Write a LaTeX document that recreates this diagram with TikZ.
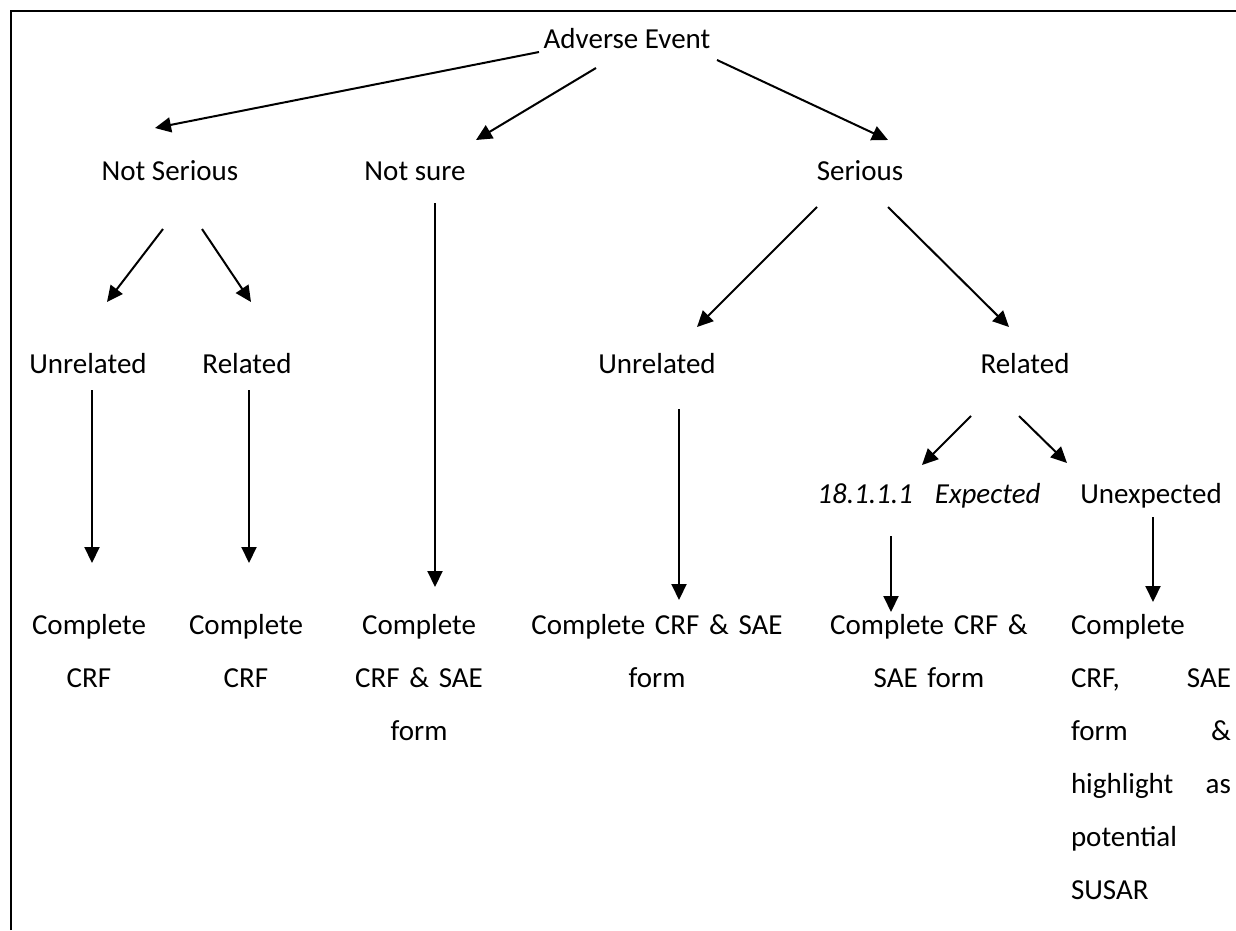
\documentclass[tikz,border=0pt]{standalone}
\usepackage{fontspec}
\setmainfont{Carlito}
\usetikzlibrary{arrows.meta}
\begin{document}
\begin{tikzpicture}[x=1pt,y=-1pt,
  lbl/.style={inner sep=0pt,anchor=base,font=\fontsize{29}{53}\selectfont},
  ml/.style={lbl,text width=260pt,align=center},
  conn/.style={line width=2pt,-{Triangle[length=16pt,width=15pt]}},
  frame/.style={line width=2pt}]
\useasboundingbox (0,0) rectangle (1236,930);
\draw[frame] (11,930) -- (11,11) -- (1237,11);

\node[lbl] (AE) at (627,48) {Adverse Event};
\node[lbl] (NS) at (170,180) {Not Serious};
\node[lbl] (NSure) at (415,180) {Not sure};
\node[lbl] (Ser) at (860,180) {Serious};
\node[lbl] (UnL) at (88,373) {Unrelated};
\node[lbl] (RelL) at (247,373) {Related};
\node[lbl] (UnM) at (657,373) {Unrelated};
\node[lbl] (RelR) at (1025,373) {Related};
\node[lbl,font=\fontsize{29}{53}\selectfont\itshape] (Exp) at (929,503) {18.1.1.1\hspace{22pt}Expected};
\node[lbl] (Unexp) at (1151,503) {Unexpected};
\node[ml] (CA) at (89,634) {Complete\\CRF};
\node[ml] (CB) at (246,634) {Complete\\CRF};
\node[ml] (CC) at (419,634) {Complete\\CRF \& SAE\\form};
\node[ml] (CD) at (657,634) {Complete CRF \& SAE\\form};
\node[ml] (CE) at (929,634) {Complete CRF \&\\SAE form};
\node[lbl,text width=160pt,align=left] (CF) at (1151,634)
  {Complete\\CRF,\hfill SAE\\form\hfill \&\\highlight\hfill as\\potential\\SUSAR};

\draw[conn] ([shift={(-88,4)}]AE.base) -- ([shift={(-15,-52)}]NS.base);
\draw[conn] ([shift={(-31,20)}]AE.base) -- ([shift={(61,-40)}]NSure.base);
\draw[conn] ([shift={(90,12)}]AE.base) -- ([shift={(28,-40)}]Ser.base);
\draw[conn] ([shift={(-7,49)}]NS.base) -- ([shift={(19,-71)}]UnL.base);
\draw[conn] ([shift={(32,49)}]NS.base) -- ([shift={(4,-71)}]RelL.base);
\draw[conn] ([shift={(20,23)}]NSure.base) -- ([shift={(16,-47)}]CC.base);
\draw[conn] ([shift={(-43,27)}]Ser.base) -- ([shift={(40,-46)}]UnM.base);
\draw[conn] ([shift={(28,27)}]Ser.base) -- ([shift={(-16,-46)}]RelR.base);
\draw[conn] ([shift={(4,17)}]UnL.base) -- ([shift={(3,-71)}]CA.base);
\draw[conn] ([shift={(2,17)}]RelL.base) -- ([shift={(3,-71)}]CB.base);
\draw[conn] ([shift={(22,36)}]UnM.base) -- ([shift={(22,-34)}]CD.base);
\draw[conn] ([shift={(-54,43)}]RelR.base) -- ([shift={(-7,-38)}]Exp.base);
\draw[conn] ([shift={(-6,43)}]RelR.base) -- ([shift={(-84,-40)}]Unexp.base);
\draw[conn] ([shift={(-38,33)}]Exp.base) -- ([shift={(-38,-22)}]CE.base);
\draw[conn] ([shift={(2,14)}]Unexp.base) -- ([shift={(2,-32)}]CF.base);
\end{tikzpicture}
\end{document}
